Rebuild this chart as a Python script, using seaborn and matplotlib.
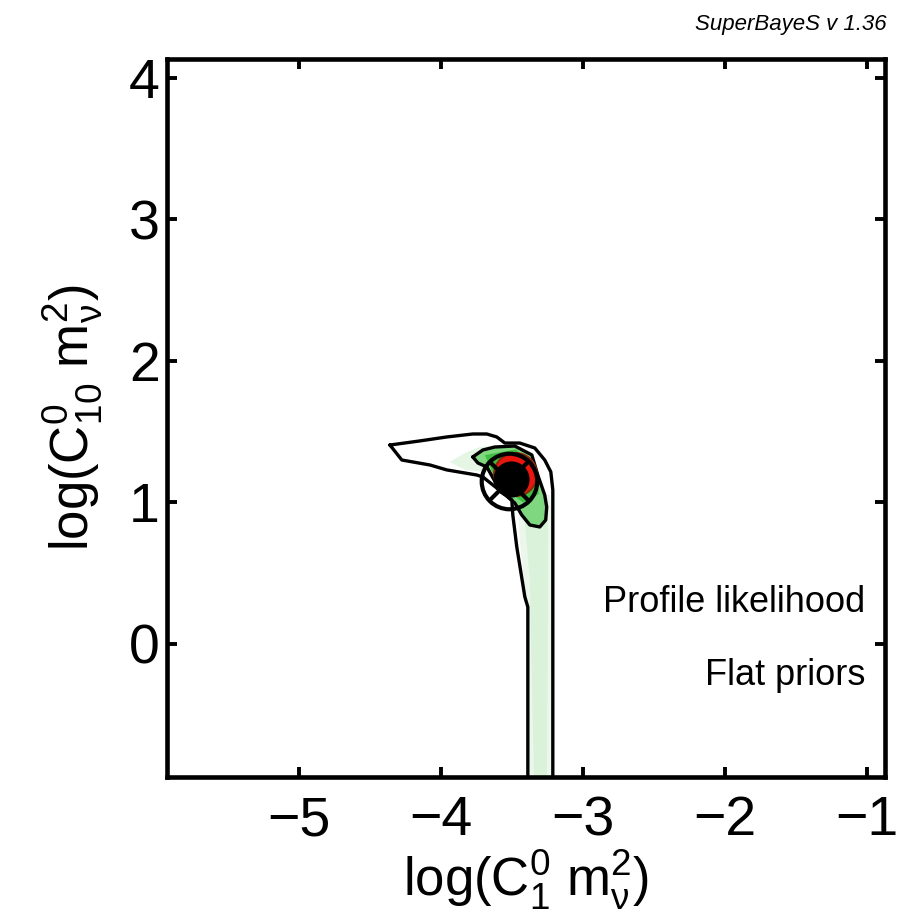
import matplotlib
matplotlib.use("Agg")
import matplotlib.pyplot as plt
import seaborn as sns
import numpy as np

# ---------------- data ----------------
x_ticks = [-5, -4, -3, -2, -1]
y_ticks = [0, 1, 2, 3, 4]
x_lim = (-5.93, -0.87)
y_lim = (-0.94, 4.134)

# outer (95%) profile-likelihood contour
outer_x = [-4.359, -4.148, -3.958, -3.775, -3.676, -3.606, -3.549, -3.444, -3.338,
           -3.268, -3.225, -3.211, -3.211, -3.387, -3.387, -3.408, -3.465, -3.493,
           -3.500, -3.704, -3.746, -3.958, -4.077, -4.275, -4.359]
outer_y = [1.406, 1.435, 1.463, 1.484, 1.484, 1.463, 1.420, 1.420, 1.385,
           1.300, 1.216, 1.088, -1.200, -1.200, 0.261, 0.332, 0.686, 0.912,
           1.018, 1.180, 1.194, 1.230, 1.265, 1.300, 1.406]

# inner (68%) contour
inner_x = [-3.775, -3.704, -3.620, -3.479, -3.359, -3.317, -3.268, -3.254, -3.261,
           -3.303, -3.373, -3.430, -3.479, -3.585, -3.676, -3.739, -3.775]
inner_y = [1.322, 1.371, 1.392, 1.399, 1.336, 1.194, 1.053, 0.968, 0.876,
           0.827, 0.841, 0.912, 0.996, 1.088, 1.251, 1.279, 1.322]

# darker core of the inner region
core_x = [-3.690, -3.470, -3.330, -3.310, -3.420, -3.600]
core_y = [1.335, 1.375, 1.240, 1.060, 1.000, 1.130]

# faint green shading (profile likelihood levels)
halo_x = [-3.937, -3.831, -3.725, -3.585, -3.549, -3.690, -3.831]
halo_y = [1.286, 1.350, 1.392, 1.406, 1.230, 1.216, 1.230]
band_x = [-3.458, -3.444, -3.401, -3.380, -3.225, -3.225, -3.218, -3.232]
band_y = [1.053, 0.735, 0.311, -1.200, -1.200, 0.311, 0.876, 1.053]
band2_x = [-3.408, -3.373, -3.338, -3.254, -3.246, -3.246]
band2_y = [0.876, 0.452, -1.200, -1.200, 0.452, 0.876]

# best fit / mean points
peak_x, peak_y = [-3.479], [1.201]
mean_x, mean_y = [-3.507], [1.166]
best_x, best_y = [-3.521], [1.152]

labels = ["Profile likelihood", "Flat priors"]
stamp = "SuperBayeS v 1.36"

# ---------------- style ----------------
sns.set_theme(style="ticks")
plt.rcParams["font.family"] = ["Liberation Sans", "DejaVu Sans"]
plt.rcParams["mathtext.fontset"] = "custom"
plt.rcParams["mathtext.rm"] = "Liberation Sans"
plt.rcParams["mathtext.it"] = "Liberation Sans:italic"
plt.rcParams["mathtext.bf"] = "Liberation Sans:bold"

fig = plt.figure(figsize=(9.16, 9.24), dpi=100)
ax = fig.add_axes([167 / 916, 1 - 777 / 924, (885 - 167) / 916, (777 - 59) / 924])
ax.set_facecolor("white")

# shading
ax.fill(band_x, band_y, color="#eaf7ea", lw=0, zorder=1)
ax.fill(band2_x, band2_y, color="#d9f2d9", lw=0, zorder=1.1)
ax.fill(halo_x, halo_y, color="#e5f6e5", lw=0, zorder=1)
ax.fill(inner_x, inner_y, color="#7fd87f", lw=0, zorder=1.2)
ax.fill(core_x, core_y, color="#3fbf3f", lw=0, zorder=1.3)

# contour lines
sns.lineplot(x=outer_x, y=outer_y, sort=False, estimator=None, color="black",
             lw=2.4, ax=ax, zorder=3)
sns.lineplot(x=inner_x, y=inner_y, sort=False, estimator=None, color="black",
             lw=2.4, ax=ax, zorder=3)

# red core, mean dot, best fit marker
ax.plot(peak_x, peak_y, marker="o", ms=31, mfc="#e8160e", mec="#8a2a0c", mew=1.5,
        ls="none", zorder=4)
ax.plot(mean_x, mean_y, marker="o", ms=25, mfc="black", mec="black", ls="none", zorder=5)
ax.plot(best_x, best_y, marker="o", ms=40, mfc="none", mec="black", mew=3.0,
        ls="none", zorder=6)
ax.plot(best_x, best_y, marker="x", ms=28, mec="black", mew=3.0, ls="none", zorder=6)

# axes
ax.set_xlim(*x_lim)
ax.set_ylim(*y_lim)
ax.set_xticks(x_ticks)
ax.set_yticks(y_ticks)
ax.set_xticklabels(["\u2212%d" % abs(v) if v < 0 else str(v) for v in x_ticks])
ax.set_yticklabels([str(v) for v in y_ticks])
for s in ax.spines.values():
    s.set_linewidth(3.3)
    s.set_color("black")
    s.set_visible(True)
ax.tick_params(axis="both", which="both", direction="in", length=7.5, width=2.8,
               top=True, right=True, labelsize=40, colors="black")
ax.tick_params(axis="x", pad=13)
ax.tick_params(axis="y", pad=5)
ax.grid(False)

ax.set_xlabel(r"$\mathrm{log(C_1^0\ m_\nu^2)}$", fontsize=38, color="black")
ax.set_ylabel(r"$\mathrm{log(C_{10}^0\ m_\nu^2)}$", fontsize=38, color="black")
ax.xaxis.set_label_coords(0.5, -0.099)
ax.yaxis.set_label_coords(-0.088, 0.5)

ax.text(0.972, 0.23, labels[0], transform=ax.transAxes, ha="right", va="baseline",
        fontsize=26, color="black")
ax.text(0.972, 0.128, labels[1], transform=ax.transAxes, ha="right", va="baseline",
        fontsize=26, color="black")
fig.text(887 / 916, 1 - 30 / 924, stamp, ha="right", va="baseline", fontsize=16,
         style="italic", color="black")

fig.savefig("out.png", dpi=100)
